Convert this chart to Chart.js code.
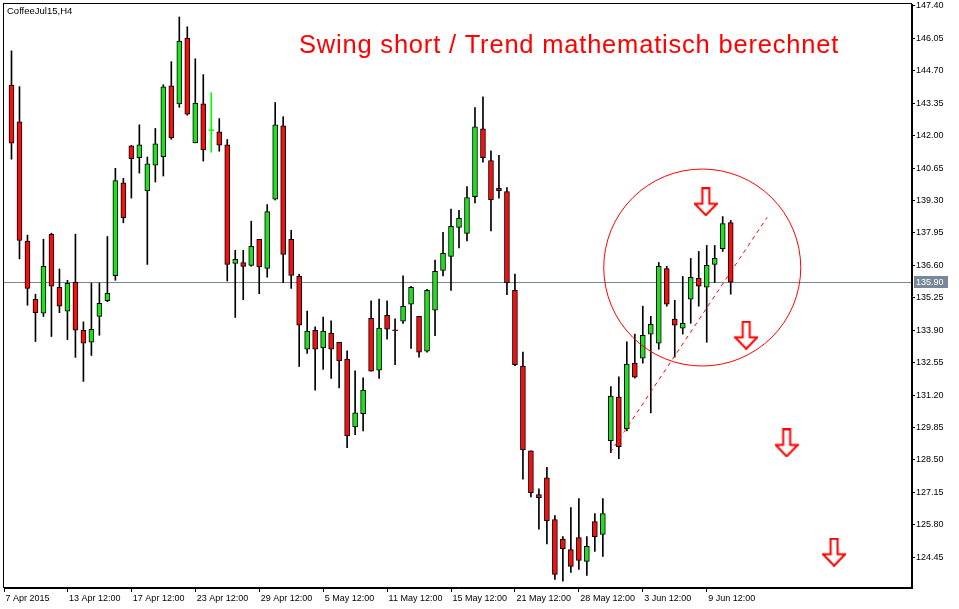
<!DOCTYPE html>
<html>
<head>
<meta charset="utf-8">
<title>CoffeeJul15,H4</title>
<script src="https://cdn.jsdelivr.net/npm/chart.js@4.4.1/dist/chart.umd.min.js"></script>
<style>
  html, body { margin: 0; padding: 0; background: #ffffff; }
  #wrap { width: 959px; height: 609px; }
</style>
</head>
<body>
<div id="wrap"><canvas id="coffeeChart"></canvas></div>
<script>
// H4 candles (index 0 = 7 Apr 2015)
const opens = [
  144.11, 142.57, 137.61, 135.19, 134.61, 137.89, 135.69, 134.69, 135.89, 133.90,
  133.40, 134.47, 135.13, 136.17, 140.04, 141.58, 141.08, 139.70, 140.77, 141.12,
  144.07, 143.32, 146.06, 141.70, 143.32, 142.21, 142.16, 141.62, 136.68, 136.72,
  136.60, 137.68, 136.47, 139.36, 142.41, 137.68, 136.14, 133.11, 133.90, 133.16,
  133.78, 133.40, 132.70, 129.88, 130.43, 134.40, 132.24, 134.52, 133.91, 134.28,
  134.98, 134.48, 133.03, 134.73, 136.39, 136.97, 138.18, 137.93, 139.46, 142.28,
  140.96, 139.81, 139.67, 135.56, 132.41, 128.88, 127.06, 127.76, 126.02, 125.21,
  124.77, 125.27, 124.28, 125.94, 125.40, 129.30, 131.12, 129.79, 132.53, 132.74,
  133.74, 133.36, 136.47, 134.36, 133.99, 135.19, 136.06, 135.69, 136.64, 137.30,
  138.38
];
const highs = [
  145.53, 144.04, 137.86, 135.40, 137.69, 137.94, 136.45, 135.98, 137.90, 134.25,
  135.86, 135.86, 137.80, 140.64, 140.22, 141.60, 142.45, 141.11, 142.30, 144.12,
  145.08, 146.94, 146.53, 145.20, 144.54, 143.79, 142.71, 141.84, 137.23, 137.23,
  138.44, 137.68, 139.13, 143.38, 142.79, 138.06, 136.23, 134.70, 134.04, 134.45,
  134.29, 133.40, 133.04, 132.21, 131.92, 135.12, 135.20, 135.12, 134.37, 136.16,
  135.73, 134.48, 135.60, 136.82, 137.98, 138.94, 138.89, 139.88, 143.17, 143.62,
  141.37, 141.18, 139.84, 136.24, 132.99, 128.88, 127.30, 128.19, 126.18, 125.31,
  126.52, 126.89, 125.31, 126.27, 126.89, 131.55, 131.96, 133.42, 133.74, 134.90,
  134.48, 136.72, 136.56, 135.15, 136.14, 136.89, 137.18, 137.43, 137.43, 138.63,
  138.47
];
const lows = [
  141.02, 136.87, 134.94, 133.43, 134.47, 133.64, 134.63, 133.51, 132.77, 131.77,
  132.85, 133.69, 135.09, 135.98, 138.37, 139.40, 140.44, 136.64, 140.07, 140.32,
  141.85, 143.18, 142.85, 141.70, 140.94, 141.31, 141.35, 135.95, 134.43, 135.17,
  136.56, 135.42, 136.11, 139.32, 135.88, 135.64, 132.39, 132.93, 131.40, 132.27,
  131.89, 131.50, 129.01, 129.55, 129.71, 132.20, 131.89, 133.53, 132.47, 134.18,
  133.14, 132.78, 132.99, 133.67, 136.16, 135.56, 137.33, 137.62, 139.20, 140.90,
  138.03, 139.40, 135.38, 132.43, 127.70, 126.96, 125.62, 125.01, 123.53, 123.45,
  123.82, 123.94, 123.69, 124.69, 124.48, 128.80, 128.55, 129.71, 131.91, 132.53,
  130.46, 133.11, 134.90, 132.78, 133.74, 134.19, 134.90, 133.40, 135.89, 137.18,
  135.40
];
const closes = [
  141.69, 137.64, 135.64, 134.63, 136.56, 135.73, 134.90, 135.85, 133.90, 133.36,
  133.94, 135.02, 135.44, 140.13, 138.59, 141.04, 141.62, 140.83, 141.66, 144.03,
  141.91, 145.94, 142.89, 143.36, 141.41, 142.21, 141.60, 136.64, 136.85, 136.56,
  137.39, 136.54, 138.84, 142.45, 137.06, 136.18, 134.11, 133.86, 133.11, 133.86,
  133.11, 132.62, 129.50, 130.46, 131.41, 132.20, 133.99, 133.94, 133.88, 134.90,
  135.69, 132.99, 135.56, 136.35, 137.10, 138.22, 138.56, 139.42, 142.37, 141.08,
  139.34, 139.71, 135.88, 132.47, 128.92, 127.14, 126.93, 125.96, 123.74, 124.81,
  124.07, 124.32, 124.90, 125.31, 126.27, 131.16, 129.05, 132.49, 131.95, 133.69,
  134.15, 136.56, 134.98, 134.11, 134.19, 136.10, 135.73, 136.60, 136.89, 138.34,
  135.90
];

const yTickLabels = ['124.45', '125.80', '127.15', '128.50', '129.85', '131.20', '132.55', '133.90', '135.25',
  '136.60', '137.95', '139.30', '140.65', '142.00', '143.35', '144.70', '146.05', '147.40'];
const xTickIdx = [7, 15, 23, 31, 39, 47, 55, 63, 71, 79, 87];
const xTickLabels = ['7 Apr 2015', '13 Apr 12:00', '17 Apr 12:00', '23 Apr 12:00', '29 Apr 12:00', '5 May 12:00',
  '11 May 12:00', '15 May 12:00', '21 May 12:00', '28 May 12:00', '3 Jun 12:00', '9 Jun 12:00'];
const lastPrice = 135.90;

// drawn-on objects (bar index / price)
const trendX = [74.94, 94.56];
const trendY = [128.81, 138.60];
const circleX = 86.44;
const circleY = 136.51;
const circleR = 98.5;
const arrowX = [86.88, 91.94, 97.0, 102.94];
const arrowY = [139.25, 133.69, 129.21, 124.66];

const UP = '#1ee01e';
const DOWN = '#f50f0f';
const DOJI = '#00ff00';

function candleColor(i) {
    if (closes[i] > opens[i]) return UP;
    if (closes[i] < opens[i]) return DOWN;
    return DOJI;
}

function makeArrow() {
    const c = document.createElement('canvas');
    c.width = 24;
    c.height = 29;
    const g = c.getContext('2d');
    g.beginPath();
    g.moveTo(8.5, 1);
    g.lineTo(15.5, 1);
    g.lineTo(15.5, 16.5);
    g.lineTo(23, 16.5);
    g.lineTo(12, 28);
    g.lineTo(1, 16.5);
    g.lineTo(8.5, 16.5);
    g.closePath();
    g.fillStyle = '#ffffff';
    g.fill();
    g.lineWidth = 2;
    g.strokeStyle = '#ff0000';
    g.stroke();
    return c;
}

const mtDecor = {
    id: 'mtDecor',
    beforeDatasetsDraw(chart) {
        const { ctx, chartArea } = chart;
        const y = Math.round(chart.scales.y.getPixelForValue(lastPrice)) + 0.5;
        ctx.save();
        ctx.strokeStyle = '#778899';
        ctx.lineWidth = 1;
        ctx.beginPath();
        ctx.moveTo(chartArea.left, y);
        ctx.lineTo(chartArea.right, y);
        ctx.stroke();
        ctx.restore();
    },
    afterDatasetsDraw(chart) {
        const { ctx, scales } = chart;
        // the hand-drawn circle round the last swing
        ctx.save();
        ctx.strokeStyle = '#ff0000';
        ctx.lineWidth = 1;
        ctx.beginPath();
        ctx.arc(scales.x.getPixelForValue(circleX), scales.y.getPixelForValue(circleY), circleR, 0, Math.PI * 2);
        ctx.stroke();
        ctx.restore();
    },
    afterDraw(chart) {
        const { ctx, chartArea } = chart;
        ctx.save();
        // frame
        ctx.strokeStyle = '#000000';
        ctx.lineWidth = 1;
        ctx.strokeRect(chartArea.left - 0.5, chartArea.top - 0.5,
            chartArea.right - chartArea.left, chartArea.bottom - chartArea.top);
        // last price label
        const y = Math.round(chart.scales.y.getPixelForValue(lastPrice));
        ctx.fillStyle = '#778899';
        ctx.fillRect(chartArea.right + 2, y - 6, 34, 12);
        ctx.fillStyle = '#ffffff';
        ctx.font = "9px 'Liberation Sans', Arial, sans-serif";
        ctx.textBaseline = 'middle';
        ctx.textAlign = 'left';
        ctx.fillText(lastPrice.toFixed(2), chartArea.right + 4, y + 0.5);
        // symbol
        ctx.fillStyle = '#000000';
        ctx.font = "9.5px 'Liberation Sans', Arial, sans-serif";
        ctx.textBaseline = 'alphabetic';
        ctx.fillText('CoffeeJul15,H4', 7, 13.5);
        // comment
        ctx.fillStyle = '#ff0000';
        ctx.font = "25.5px 'Liberation Sans', Arial, sans-serif";
        ctx.letterSpacing = '0.8px';
        ctx.fillText('Swing short / Trend mathematisch berechnet', 299, 53);
        ctx.restore();
    }
};

Chart.defaults.font.family = "'Liberation Sans', Arial, sans-serif";
Chart.defaults.color = '#000000';

const ctx = document.getElementById('coffeeChart').getContext('2d');
new Chart(ctx, {
    type: 'bar',
    data: {
        datasets: [
            {
                type: 'scatter',
                data: arrowX.map((x, i) => ({ x: x, y: arrowY[i] })),
                pointStyle: makeArrow(),
                pointRadius: 0.1,
                pointBorderWidth: 0,
                order: 0
            },
            {
                type: 'line',
                data: trendX.map((x, i) => ({ x: x, y: trendY[i] })),
                borderColor: '#ff0000',
                borderWidth: 1,
                borderDash: [4, 4],
                pointRadius: 0,
                order: 1
            },
            {
                label: 'body',
                data: opens.map((o, i) => ({ x: i, y: [o, closes[i]] })),
                backgroundColor: opens.map((o, i) => candleColor(i)),
                borderColor: opens.map((o, i) => candleColor(i) === DOJI ? DOJI : '#000000'),
                borderWidth: 1,
                borderSkipped: false,
                barThickness: 5,
                minBarLength: 1,
                grouped: false,
                order: 3
            },
            {
                label: 'wick',
                data: lows.map((l, i) => ({ x: i, y: [l, highs[i]] })),
                backgroundColor: lows.map((l, i) => candleColor(i) === DOJI ? DOJI : '#000000'),
                borderWidth: 0,
                barThickness: 1,
                grouped: false,
                order: 4
            }
        ]
    },
    options: {
        responsive: true,
        maintainAspectRatio: false,
        animation: false,
        events: [],
        layout: { padding: { left: 3, top: 2, right: 0, bottom: 0 } },
        plugins: {
            legend: { display: false },
            tooltip: { enabled: false }
        },
        scales: {
            x: {
                type: 'linear',
                offset: false,
                min: -0.9375,
                max: 112.6875,
                afterBuildTicks: scale => {
                    scale.ticks = [{ value: scale.min }].concat(xTickIdx.map(v => ({ value: v })));
                },
                afterFit: scale => {
                    scale.height = 21;
                    scale.paddingLeft = 0;
                    scale.paddingRight = 0;
                },
                grid: { offset: false, drawOnChartArea: false, drawTicks: true, tickLength: 4, color: '#000000' },
                border: { display: true, color: '#000000' },
                ticks: {
                    autoSkip: false,
                    maxRotation: 0,
                    align: 'start',
                    labelOffset: 1.5,
                    padding: 1,
                    font: { size: 9 },
                    callback: (value, index) => xTickLabels[index]
                }
            },
            y: {
                type: 'linear',
                position: 'right',
                min: 123.17,
                max: 147.48,
                afterBuildTicks: scale => {
                    scale.ticks = yTickLabels.map(s => ({ value: parseFloat(s) }));
                },
                afterFit: scale => {
                    scale.width = 47;
                    scale.paddingTop = 0;
                    scale.paddingBottom = 0;
                },
                grid: { drawOnChartArea: false, drawTicks: true, tickLength: 3, color: '#000000' },
                border: { display: true, color: '#000000' },
                ticks: {
                    autoSkip: false,
                    padding: 1,
                    font: { size: 9 },
                    callback: value => value.toFixed(2)
                }
            }
        }
    },
    plugins: [mtDecor]
});
</script>
</body>
</html>
